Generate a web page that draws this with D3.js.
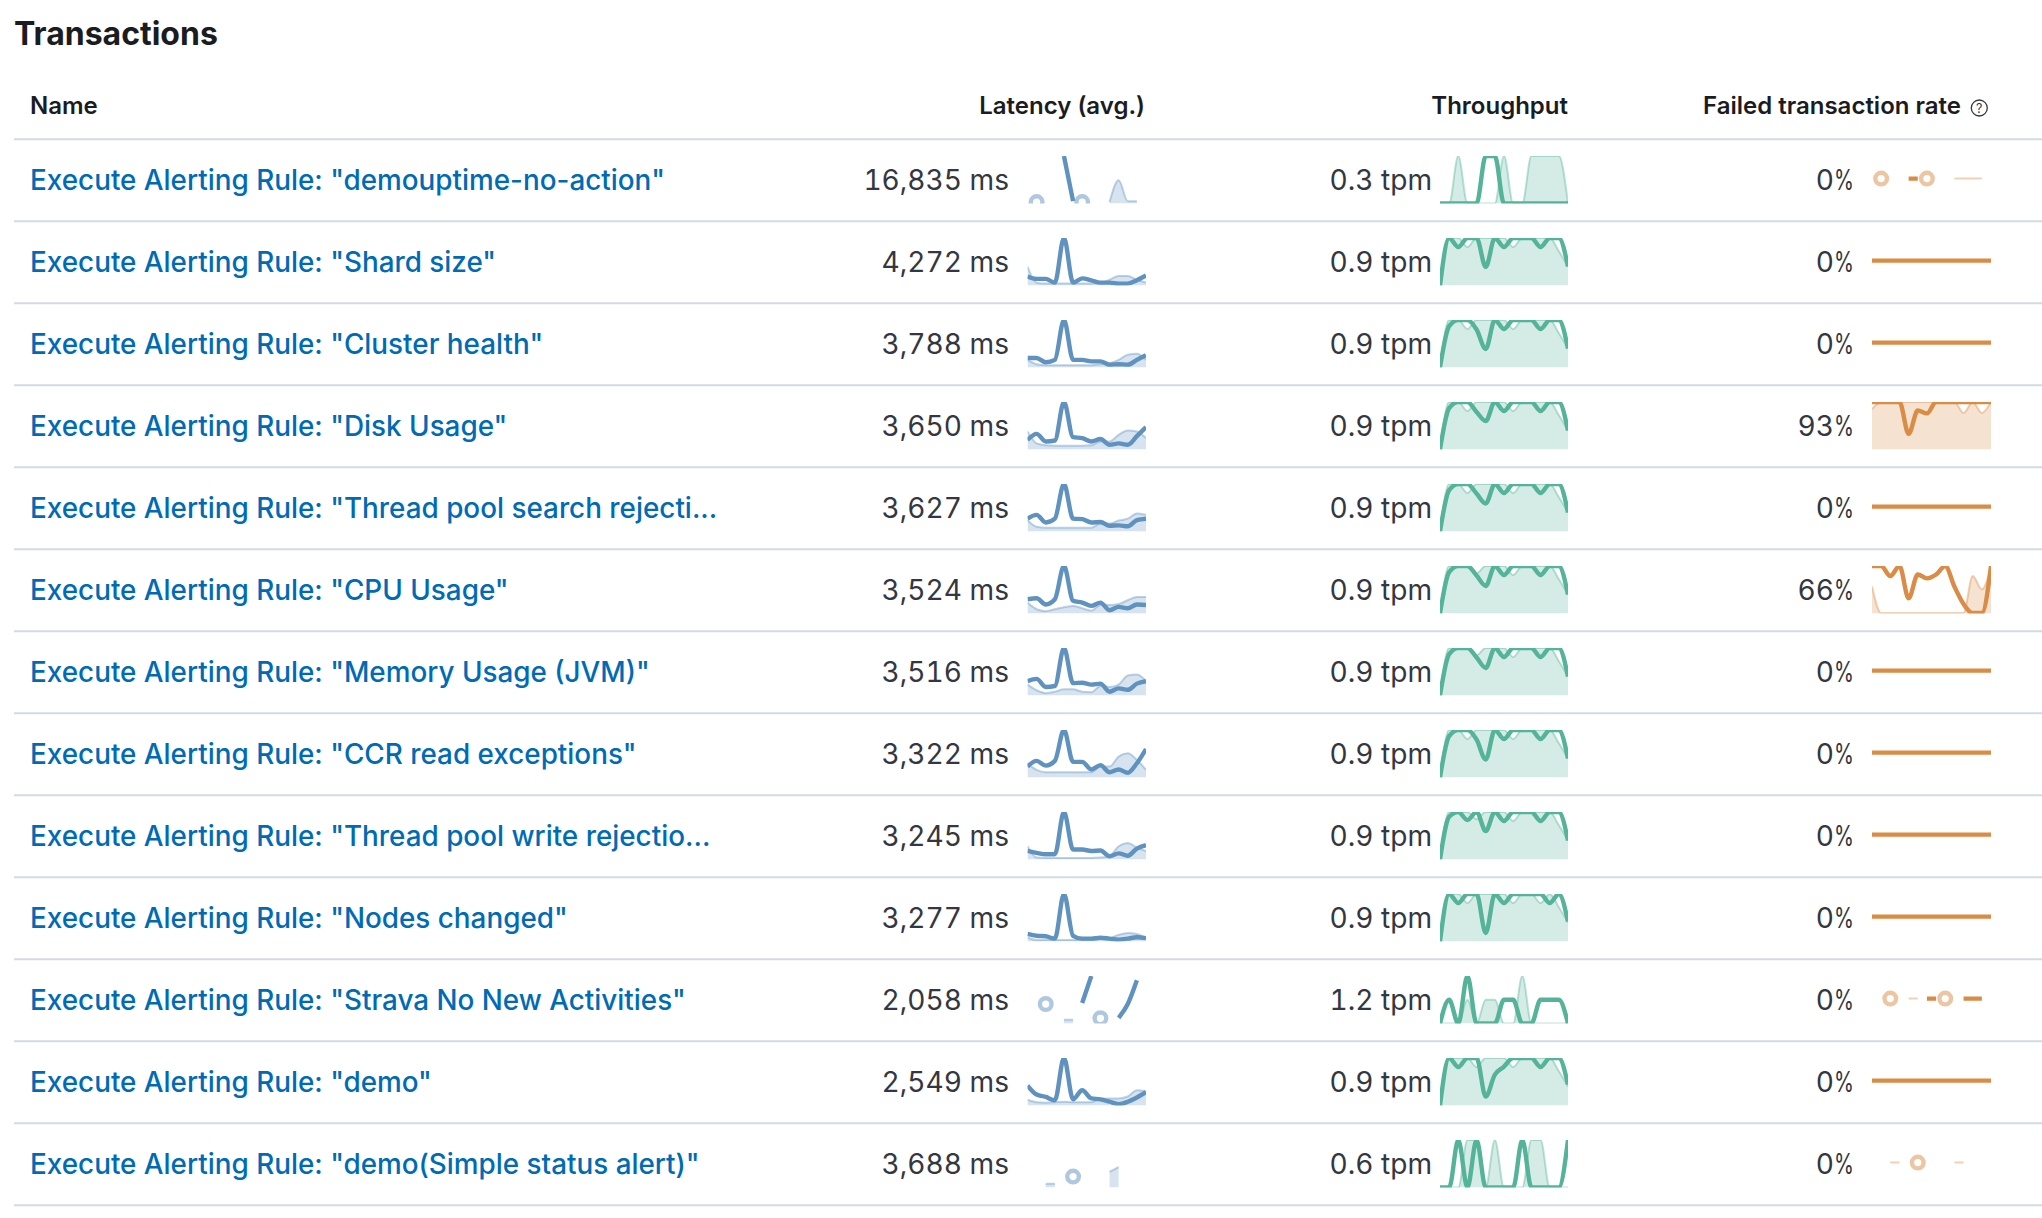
<!DOCTYPE html>
<html>
<head>
<meta charset="utf-8">
<script src="https://cdn.jsdelivr.net/npm/d3@7"></script>
<style>
  html, body { margin: 0; background: #fff; }
  text { font-family: Inter, "Noto Sans", sans-serif; }
  .value { font-variant-numeric: tabular-nums; }
</style>
</head>
<body>
<div id="plot"></div>
<script>
// page size
const width = 2042;
const height = 1218;

// table text
const title = "Transactions";
const headers = ["Name", "Latency (avg.)", "Throughput", "Failed transaction rate"];
const names = [
  'Execute Alerting Rule: "demouptime-no-action"',
  'Execute Alerting Rule: "Shard size"',
  'Execute Alerting Rule: "Cluster health"',
  'Execute Alerting Rule: "Disk Usage"',
  'Execute Alerting Rule: "Thread pool search rejecti...',
  'Execute Alerting Rule: "CPU Usage"',
  'Execute Alerting Rule: "Memory Usage (JVM)"',
  'Execute Alerting Rule: "CCR read exceptions"',
  'Execute Alerting Rule: "Thread pool write rejectio...',
  'Execute Alerting Rule: "Nodes changed"',
  'Execute Alerting Rule: "Strava No New Activities"',
  'Execute Alerting Rule: "demo"',
  'Execute Alerting Rule: "demo(Simple status alert)"'
];
const latencyLabels = ["16,835 ms", "4,272 ms", "3,788 ms", "3,650 ms", "3,627 ms", "3,524 ms", "3,516 ms", "3,322 ms", "3,245 ms", "3,277 ms", "2,058 ms", "2,549 ms", "3,688 ms"];
const throughputLabels = ["0.3 tpm", "0.9 tpm", "0.9 tpm", "0.9 tpm", "0.9 tpm", "0.9 tpm", "0.9 tpm", "0.9 tpm", "0.9 tpm", "0.9 tpm", "1.2 tpm", "0.9 tpm", "0.6 tpm"];
const errorLabels = ["0%", "0%", "0%", "93%", "0%", "66%", "0%", "0%", "0%", "0%", "0%", "0%", "0%"];

const _ = null; // gap in the series
const latencyCurrent = [
  [_,_,_,_,1,.05,_,_,_,_,_,_,_,_],
  [.19,.14,.14,.06,1,.06,.15,.11,.06,.06,.04,.04,.11,.21],
  [.2,.2,.11,.16,1,.16,.16,.13,.13,.06,.07,.06,.16,.26],
  [.2,.33,.17,.19,1,.26,.24,.17,.22,.1,.13,.1,.28,.47],
  [.27,.35,.19,.27,1,.27,.26,.19,.2,.12,.13,.11,.24,.27],
  [.3,.32,.19,.3,1,.27,.23,.16,.23,.07,.14,.11,.19,.18],
  [.3,.35,.18,.2,1,.26,.27,.23,.25,.08,.15,.12,.25,.3],
  [.23,.35,.25,.35,1,.33,.33,.17,.26,.11,.17,.1,.3,.6],
  [.18,.14,.11,.11,1,.21,.21,.18,.19,.07,.13,.08,.23,.3],
  [.16,.12,.11,.06,1,.12,.06,.06,.08,.06,.04,.06,.09,.07],
  [_,_,_,_,_,_,.43,1,_,_,.12,.41,.91,_],
  [.42,.23,.18,.11,1,.13,.32,.15,.13,.08,.03,.08,.17,.28],
  [_,_,_,_,_,_,_,_,_,_,_,_,_,_]
];
const latencyPrevious = [
  [_,.03,_,_,_,_,.03,_,_,.03,.49,.05,.05,_],
  [.4,.06,.04,.04,.04,.04,.04,.04,.05,.12,.2,.2,.12,.06],
  [.16,.07,.05,.05,.05,.05,.05,.05,.07,.09,.16,.27,.29,.16],
  [.38,.13,.09,.08,.08,.08,.08,.09,.17,.17,.31,.4,.38,.24],
  [.24,.1,.08,.08,.08,.08,.08,.08,.17,.17,.23,.27,.38,.35],
  [.23,.09,.05,.09,.13,.16,.11,.06,.18,.18,.2,.28,.35,.35],
  [.23,.11,.05,.08,.13,.13,.08,.07,.2,.18,.23,.42,.44,.3],
  [.3,.16,.11,.11,.11,.11,.11,.11,.23,.23,.44,.51,.37,.16],
  [.28,.04,.03,.03,.03,.03,.03,.03,.04,.07,.28,.35,.25,.18],
  [.09,.03,.03,.03,.03,.03,.03,.03,.05,.07,.14,.18,.16,.07],
  [_,_,.41,_,.08,.08,_,_,.11,_,_,_,_,_],
  [.12,.07,.06,.07,.08,.07,.07,.07,.14,.15,.15,.19,.32,.3],
  [_,_,.08,.08,_,.23,_,_,_,.33,.43,_,_,_]
];
const throughputCurrent = [
  [0,0,0,0,0,1,1,0,0,0,0,0,0,0,0],
  [0,1,.81,1,1,.39,1,.81,1,1,1,.81,1,1,.4],
  [0,.87,1,1,.8,.39,1,.81,1,1,1,.81,1,1,.4],
  [0,.87,1,1,.79,.6,1,.81,1,1,1,.81,1,1,.4],
  [0,.87,1,1,.8,.59,1,.81,1,1,1,.81,1,1,.4],
  [0,.87,1,1,.8,.58,1,.81,1,1,1,.81,1,1,.4],
  [0,.87,1,1,.8,.58,1,.81,1,1,1,.81,1,1,.4],
  [0,.87,1,1,.8,.38,1,.81,1,1,1,.81,1,1,.4],
  [0,.9,1,.83,1,.6,1,.81,1,1,1,.81,1,1,.4],
  [0,1,.81,1,1,.18,1,.81,1,1,1,1,.81,1,.42],
  [0,.5,0,1,0,0,0,.5,.5,0,0,.5,.5,.5,0],
  [0,1,.81,1,1,.19,.65,.82,1,1,1,.81,1,1,.44],
  [0,0,1,0,1,0,0,0,0,1,0,0,0,0,1]
];
const throughputPrevious = [
  [0,0,1,0,0,0,0,1,0,0,1,1,1,1,0],
  [0,1,1,.81,1,1,1,1,.81,1,1,1,1,.72,.4],
  [0,1,1,.81,1,1,1,1,.81,1,1,1,1,.72,.4],
  [0,1,1,.81,1,1,1,1,.81,1,1,1,1,.72,.4],
  [0,1,1,.81,1,1,1,1,.81,1,1,1,1,.72,.4],
  [0,1,1,1,.85,1,1,1,.81,1,1,1,1,.72,.4],
  [0,1,1,1,.85,1,1,1,.81,1,1,1,1,.72,.4],
  [0,1,1,.81,1,1,1,1,.81,1,1,1,1,.72,.4],
  [0,1,1,1,.85,1,1,1,.81,1,1,1,1,.72,.4],
  [0,1,1,.81,1,1,1,1,.81,1,1,.81,1,.72,.4],
  [0,0,0,.5,0,.5,.5,0,0,1,0,0,0,0,0],
  [0,1,1,1,.81,1,1,1,.81,1,1,1,1,.72,.4],
  [0,0,0,1,1,0,1,0,0,0,1,1,0,0,0]
];
const errorCurrent = [
  [_,_,_,_,0,0,_,_,_,_,_,_,_,_],
  [0,0,0,0,0,0,0,0,0,0,0,0,0,0],
  [0,0,0,0,0,0,0,0,0,0,0,0,0,0],
  [1,1,1,1,.33,.82,.76,1,1,1,1,1,1,1],
  [0,0,0,0,0,0,0,0,0,0,0,0,0,0],
  [1,1,.79,1,.32,.82,.74,.82,1,.57,.2,.01,.01,1],
  [0,0,0,0,0,0,0,0,0,0,0,0,0,0],
  [0,0,0,0,0,0,0,0,0,0,0,0,0,0],
  [0,0,0,0,0,0,0,0,0,0,0,0,0,0],
  [0,0,0,0,0,0,0,0,0,0,0,0,0,0],
  [_,_,_,_,_,_,0,0,_,_,0,0,0,_],
  [0,0,0,0,0,0,0,0,0,0,0,0,0,0],
  [_,_,_,_,_,_,_,_,_,_,_,_,_,_]
];
const errorPrevious = [
  [_,0,_,_,_,_,0,_,_,0,0,0,0,_],
  [0,0,0,0,0,0,0,0,0,0,0,0,0,0],
  [0,0,0,0,0,0,0,0,0,0,0,0,0,0],
  [.85,1,1,1,1,1,1,1,1,1,.77,1,.77,1],
  [0,0,0,0,0,0,0,0,0,0,0,0,0,0],
  [.57,.01,.01,.01,.01,.01,.01,.01,.01,.01,.01,.79,.51,.98],
  [0,0,0,0,0,0,0,0,0,0,0,0,0,0],
  [0,0,0,0,0,0,0,0,0,0,0,0,0,0],
  [0,0,0,0,0,0,0,0,0,0,0,0,0,0],
  [0,0,0,0,0,0,0,0,0,0,0,0,0,0],
  [_,_,0,_,0,0,_,_,0,_,_,_,_,_],
  [0,0,0,0,0,0,0,0,0,0,0,0,0,0],
  [_,_,0,0,_,0,_,_,_,0,0,_,_,_]
];

// colours
const blue = "#6092c0";
const green = "#54b399";
const orange = "#da8b45";

// layout
const firstRule = 139.3;
const rowStep = 82;
const sparkTop = 16.7;
const sparkHeight = 47.5;
const columns = [
  {current: latencyCurrent, previous: latencyPrevious, labels: latencyLabels, color: blue, x0: 1027.5, x1: 1146, labelX: 1009},
  {current: throughputCurrent, previous: throughputPrevious, labels: throughputLabels, color: green, x0: 1440, x1: 1568, labelX: 1432},
  {current: errorCurrent, previous: errorPrevious, labels: errorLabels, color: orange, x0: 1872, x1: 1991, labelX: 1854}
];

const svg = d3.select("div#plot")
    .append("svg")
    .attr("width", width)
    .attr("height", height)
    .style("display", "block");

const rowScale = d3.scaleLinear().domain([0, 1]).range([firstRule, firstRule + rowStep]);

// title and headers
svg.append("text").attr("x", 14).attr("y", 45)
    .attr("font-size", 32).attr("font-weight", 700).attr("fill", "#1a1c21").text(title);

const headerX = [30, 1145, 1568, 1961];
const headerAnchor = ["start", "end", "end", "end"];
svg.selectAll(".header").data(headers).enter().append("text")
    .attr("class", "header")
    .attr("x", (d, i) => headerX[i])
    .attr("y", 114)
    .attr("text-anchor", (d, i) => headerAnchor[i])
    .attr("font-size", 24).attr("font-weight", 600).attr("fill", "#1a1c21")
    .text(d => d);

// help icon
const help = svg.append("g").attr("transform", "translate(1979.3,108)");
help.append("circle").attr("r", 8).attr("fill", "none").attr("stroke", "#343741").attr("stroke-width", 1.3);
help.append("text").attr("text-anchor", "middle").attr("y", 4.5).attr("font-size", 12.5).attr("fill", "#343741").text("?");

// rules
svg.selectAll(".rule").data(d3.range(names.length + 1)).enter().append("line")
    .attr("class", "rule")
    .attr("x1", 14).attr("x2", width)
    .attr("y1", d => rowScale(d)).attr("y2", d => rowScale(d))
    .attr("stroke", "#d3dae6").attr("stroke-width", 2);

// names
svg.selectAll(".name").data(names).enter().append("text")
    .attr("class", "name")
    .attr("x", 30)
    .attr("y", (d, i) => rowScale(i) + 50.6)
    .attr("font-size", 27.85).attr("font-weight", 500).attr("fill", "#006bb4")
    .text(d => d);

// column values and sparklines
columns.forEach(function(col, c) {
    const labels = svg.selectAll(".value" + c).data(col.labels).enter().append("text")
        .attr("class", "value value" + c)
        .attr("x", col.labelX)
        .attr("y", (d, i) => rowScale(i) + 50.6)
        .attr("text-anchor", "end")
        .attr("font-size", 28.1).attr("fill", "#343741");

    // the percent sign is narrower in the reference's Inter
    labels.append("tspan").text(d => d.replace("%", ""));
    labels.filter(d => d.endsWith("%")).append("tspan")
        .attr("textLength", 20).attr("lengthAdjust", "spacingAndGlyphs")
        .text("%");

    names.forEach(function(name, i) {
        drawSpark(col, c, i);
    });
});

function drawSpark(col, c, i) {
    const current = col.current[i];
    const previous = col.previous[i];
    const all = current.concat(previous).filter(v => v !== null);
    const flat = d3.max(all) === d3.min(all);

    const x = d3.scaleLinear().domain([0, current.length - 1]).range([col.x0, col.x1]);
    const y = d3.scaleLinear()
        .domain(flat ? [-1.1, 1] : [0, 1])
        .range([rowScale(i) + sparkTop + sparkHeight, rowScale(i) + sparkTop]);

    const clipId = "clip-" + c + "-" + i;
    svg.append("clipPath").attr("id", clipId).append("rect")
        .attr("x", col.x0).attr("width", col.x1 - col.x0)
        .attr("y", y.range()[1]).attr("height", sparkHeight);

    const g = svg.append("g").attr("clip-path", "url(#" + clipId + ")");

    const area = d3.area()
        .defined(d => d !== null)
        .x((d, j) => x(j))
        .y0(y(0))
        .y1(d => y(d))
        .curve(d3.curveMonotoneX);

    const line = d3.line()
        .defined(d => d !== null)
        .x((d, j) => x(j))
        .y(d => y(d))
        .curve(d3.curveMonotoneX);

    g.append("path").attr("d", area(previous)).attr("fill", col.color).attr("fill-opacity", 0.25);
    g.append("path").attr("d", line(previous)).attr("fill", "none")
        .attr("stroke", col.color).attr("stroke-opacity", 0.4).attr("stroke-width", 2);

    // points with no neighbour show up as rings
    previous.forEach(function(v, j) {
        if (v === null) return;
        const before = j > 0 ? previous[j - 1] : null;
        const after = j < previous.length - 1 ? previous[j + 1] : null;
        if (before === null && after === null) {
            g.append("circle").attr("cx", x(j)).attr("cy", y(v)).attr("r", 5.8)
                .attr("fill", "#fff").attr("stroke", col.color)
                .attr("stroke-opacity", 0.5).attr("stroke-width", 4.4);
        }
    });

    g.append("path").attr("d", line(current)).attr("fill", "none")
        .attr("stroke", col.color).attr("stroke-width", 4.4);
}
</script>
</body>
</html>
